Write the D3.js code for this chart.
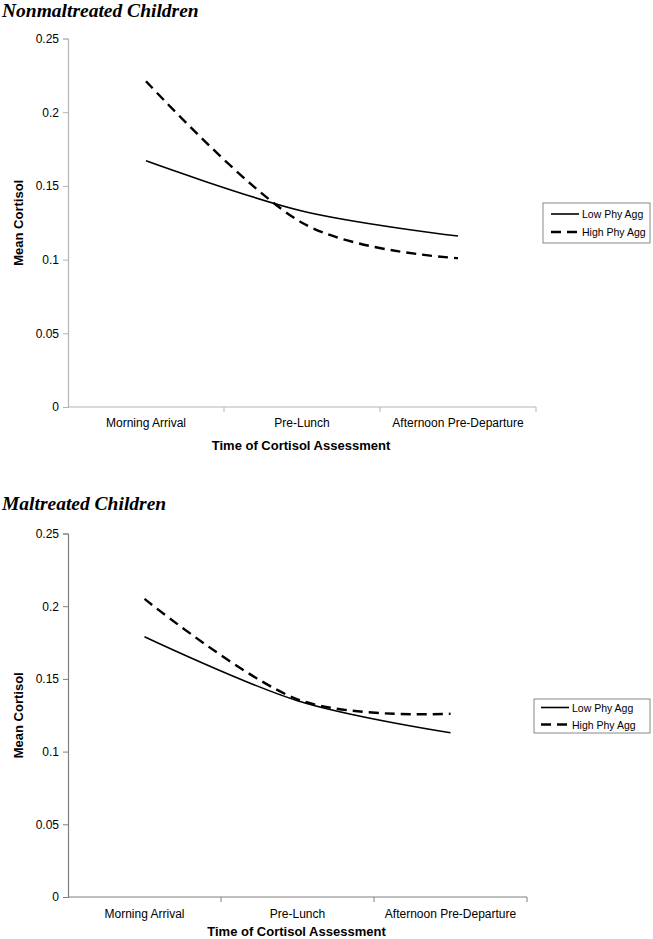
<!DOCTYPE html>
<html><head><meta charset="utf-8">
<script src="https://cdn.jsdelivr.net/npm/d3@7"></script>
<style>body{margin:0;background:#fff}</style>
</head><body>
<svg id="c" width="653" height="939"></svg>
<script>
const categories = ["Morning Arrival", "Pre-Lunch", "Afternoon Pre-Departure"];
const yTicks = [0, 0.05, 0.1, 0.15, 0.2, 0.25];
const seriesNames = ["Low Phy Agg", "High Phy Agg"];
const nonLow = [0.167, 0.133, 0.116];
const nonHigh = [0.221, 0.125, 0.101];
const malLow = [0.179, 0.135, 0.113];
const malHigh = [0.205, 0.136, 0.126];

const svg = d3.select("#c");
const font = "'Liberation Sans', Arial, sans-serif";

function panel(cfg) {
  const g = svg.append("g");
  g.append("text").attr("x", 2).attr("y", cfg.titleY)
    .attr("font-family", "'Liberation Serif', 'Times New Roman', serif")
    .attr("font-weight", "bold").attr("font-style", "italic")
    .attr("font-size", 19.5).text(cfg.title);
  const x = d3.scaleBand().domain(categories).range([cfg.x0, cfg.x1]);
  const y = d3.scaleLinear().domain([0, 0.25]).range([cfg.y0, cfg.y1]);
  const ya = g.append("g").attr("transform", `translate(${cfg.x0},0)`)
    .call(d3.axisLeft(y).tickValues(yTicks).tickSize(5).tickPadding(4).tickFormat(d => d3.format("")(d)));
  ya.select(".domain").attr("stroke", cfg.axisColor).attr("stroke-width", 1.2);
  ya.selectAll(".tick line").attr("stroke", cfg.axisColor);
  ya.selectAll("text").attr("font-family", font).attr("font-size", 12).attr("fill", "#000");
  const xa = g.append("g").attr("transform", `translate(0,${cfg.y0})`);
  xa.append("line").attr("x1", cfg.x0).attr("x2", cfg.x1).attr("stroke", cfg.axisColor).attr("stroke-width", 1.2);
  const bounds = categories.map(c => x(c)).concat([cfg.x1]);
  xa.selectAll("line.t").data(bounds.slice(1)).join("line").attr("class", "t")
    .attr("x1", d => d).attr("x2", d => d).attr("y1", 0).attr("y2", 5).attr("stroke", cfg.axisColor);
  xa.selectAll("text").data(categories).join("text")
    .attr("x", d => x(d) + x.bandwidth() / 2).attr("y", cfg.labelDy)
    .attr("text-anchor", "middle").attr("font-family", font).attr("font-size", 12).text(d => d);
  g.append("text").attr("x", (cfg.x0 + cfg.x1) / 2 - 1).attr("y", cfg.y0 + cfg.titleDy)
    .attr("text-anchor", "middle").attr("font-family", font).attr("font-weight", "bold")
    .attr("font-size", 13).text("Time of Cortisol Assessment");
  g.append("text").attr("transform", `translate(${cfg.yLabX},${(cfg.y0 + cfg.y1) / 2}) rotate(-90)`)
    .attr("text-anchor", "middle").attr("font-family", font).attr("font-weight", "bold")
    .attr("font-size", 13).text("Mean Cortisol");
  const line = d3.line().x((d, i) => x(categories[i]) + x.bandwidth() / 2).y(d => y(d))
    .curve(d3.curveCardinal.tension(0));
  g.append("path").attr("d", line(cfg.low)).attr("fill", "none").attr("stroke", "#000").attr("stroke-width", 1.6);
  g.append("path").attr("d", line(cfg.high)).attr("fill", "none").attr("stroke", "#000").attr("stroke-width", 2.4)
    .attr("stroke-dasharray", "10,6");
  const L = cfg.legend;
  g.append("rect").attr("x", L.x).attr("y", L.y).attr("width", L.w).attr("height", L.h)
    .attr("fill", "#fff").attr("stroke", "#888").attr("stroke-width", 1);
  seriesNames.forEach((s, i) => {
    const cy = L.y + L.row0 + i * L.rowGap;
    g.append("line").attr("x1", L.sx0).attr("x2", L.sx1).attr("y1", cy).attr("y2", cy)
      .attr("stroke", "#000").attr("stroke-width", i ? 2.4 : 1.6)
      .attr("stroke-dasharray", i ? "10,6" : null);
    g.append("text").attr("x", L.sx1 + 3).attr("y", cy + 4).attr("font-family", font)
      .attr("font-size", 10.5).text(s);
  });
}

panel({
  title: "Nonmaltreated Children", titleY: 17,
  x0: 68, x1: 536, y0: 407, y1: 38.5, axisColor: "#b4b4b4",
  labelDy: 20, titleDy: 43, yLabX: 23,
  low: nonLow, high: nonHigh,
  legend: {x: 543, y: 203, w: 107, h: 40, row0: 11, rowGap: 18, sx0: 551, sx1: 579}
});
panel({
  title: "Maltreated Children", titleY: 510,
  x0: 68, x1: 527, y0: 897, y1: 533.5, axisColor: "#808080",
  labelDy: 21, titleDy: 39, yLabX: 23,
  low: malLow, high: malHigh,
  legend: {x: 534, y: 699, w: 116, h: 34, row0: 8.5, rowGap: 17, sx0: 541, sx1: 569}
});
</script>
</body></html>
